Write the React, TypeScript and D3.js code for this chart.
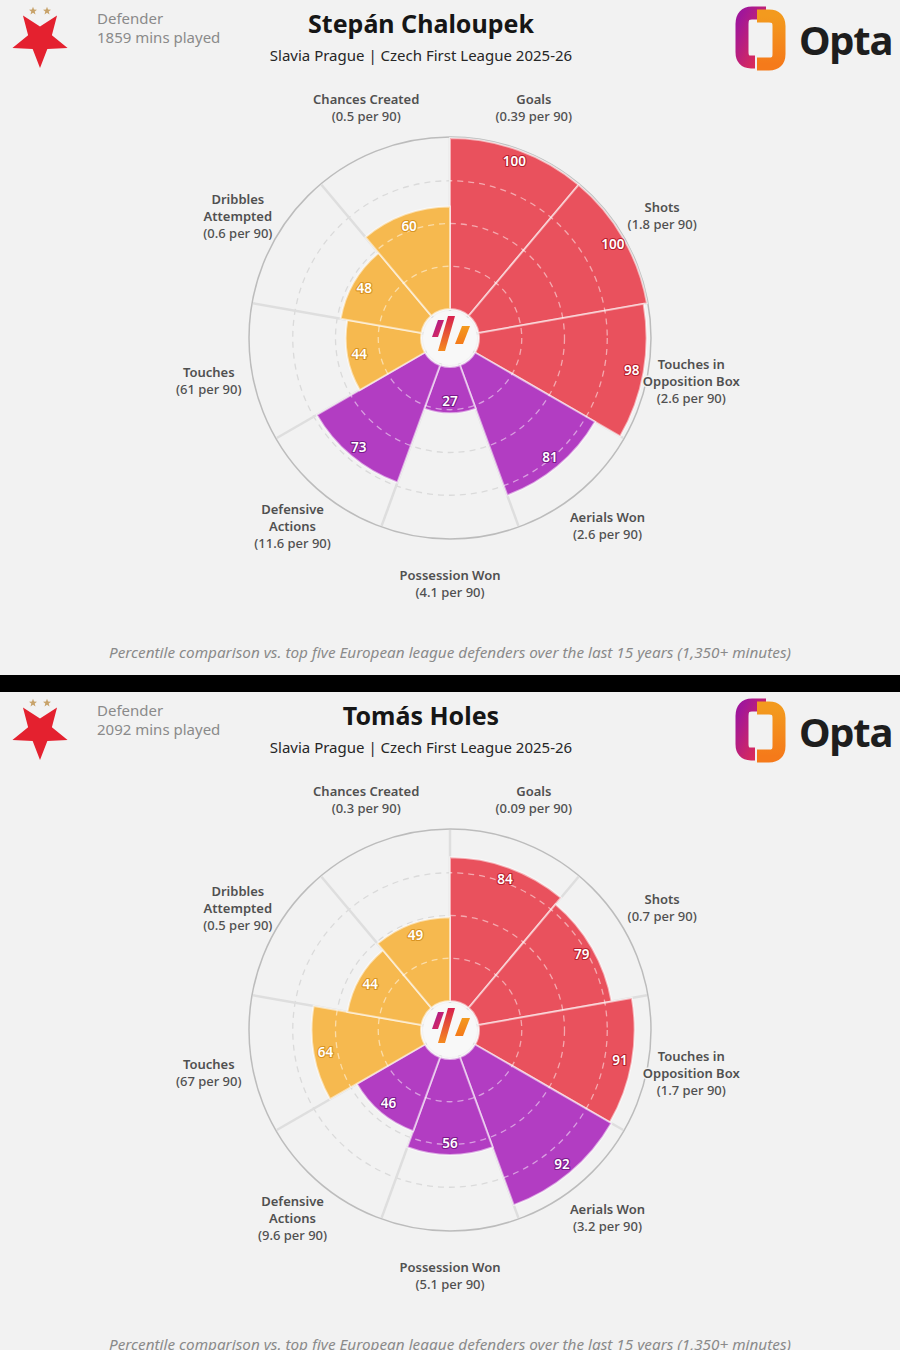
import * as d3 from "d3";

const categories = [
  "Goals",
  "Shots",
  "Touches in Opposition Box",
  "Aerials Won",
  "Possession Won",
  "Defensive Actions",
  "Touches",
  "Dribbles Attempted",
  "Chances Created",
];
const labelLines = [
  ["Goals"],
  ["Shots"],
  ["Touches in", "Opposition Box"],
  ["Aerials Won"],
  ["Possession Won"],
  ["Defensive", "Actions"],
  ["Touches"],
  ["Dribbles", "Attempted"],
  ["Chances Created"],
];
const groups = ["attack", "attack", "attack", "defence", "defence", "defence", "possession", "possession", "possession"];

const chaloupekPct = [100, 100, 98, 81, 27, 73, 44, 48, 60];
const chaloupekPer90 = ["0.39", "1.8", "2.6", "2.6", "4.1", "11.6", "61", "0.6", "0.5"];
const holesPct = [84, 79, 91, 92, 56, 46, 64, 44, 49];
const holesPer90 = ["0.09", "0.7", "1.7", "3.2", "5.1", "9.6", "67", "0.5", "0.3"];

const gridTicks = [25, 50, 75];

const groupColor: Record<string, string> = {
  attack: "#e9515d",
  defence: "#b23dc2",
  possession: "#f6b94f",
};
const groupDark: Record<string, string> = {
  attack: "#b8202e",
  defence: "#7a1a8a",
  possession: "#d99422",
};

const W = 900;
const PANEL_H = 675;
const BAND_H = 17;
const BG = "#f2f2f2";
const FONT = "'Noto Sans', 'DejaVu Sans', sans-serif";

const innerR = 29;
const outerR = 200;
const labelR = 245;

type PanelProps = {
  id: string;
  name: string;
  minutes: string;
  pct: number[];
  per90: string[];
  y0: number;
};

function Panel({ id, name, minutes, pct, per90, y0 }: PanelProps) {
  const cx = 450;
  const cy = 338;
  const angle = d3.scaleBand<string>().domain(categories).range([0, 2 * Math.PI]).padding(0);
  const r = d3.scaleLinear().domain([0, 100]).range([innerR, outerR]);
  const bw = angle.bandwidth();
  const arc = d3.arc<number>()
    .innerRadius(innerR)
    .outerRadius((d) => r(pct[d]))
    .startAngle((d) => angle(categories[d]) ?? 0)
    .endAngle((d) => (angle(categories[d]) ?? 0) + bw);
  const idx = categories.map((_, i) => i);
  const pos = (a: number, rad: number) => [Math.sin(a) * rad, -Math.cos(a) * rad];

  // red star pointing down
  const starPts: [number, number][] = d3.range(10).map((k) => {
    const a = Math.PI + (k * Math.PI) / 5;
    const rr = k % 2 === 0 ? 29 : 12.5;
    return [40 + Math.sin(a) * rr, 39 - Math.cos(a) * rr];
  });
  const smallStar = (sx: number, sy: number) =>
    d3.range(10).map((k) => {
      const a = (k * Math.PI) / 5;
      const rr = k % 2 === 0 ? 4.2 : 1.8;
      return [sx + Math.sin(a) * rr, sy - Math.cos(a) * rr].join(",");
    }).join(" ");

  return (
    <g transform={`translate(0,${y0})`}>
      <defs>
        <linearGradient id={`${id}-g1`} x1="0" y1="0" x2="1" y2="1">
          <stop offset="0%" stopColor="#a0169a" />
          <stop offset="100%" stopColor="#e8304a" />
        </linearGradient>
        <linearGradient id={`${id}-g2`} x1="0" y1="0" x2="0" y2="1">
          <stop offset="0%" stopColor="#f39a1e" />
          <stop offset="100%" stopColor="#f57a1a" />
        </linearGradient>
        <linearGradient id={`${id}-g3`} x1="0" y1="0" x2="0" y2="1">
          <stop offset="0%" stopColor="#d8204e" />
          <stop offset="100%" stopColor="#f58a1e" />
        </linearGradient>
        <clipPath id={`${id}-clip`}>
          {idx.map((i) => (
            <path key={i} d={arc(i) ?? ""} transform={`translate(${cx},${cy})`} />
          ))}
        </clipPath>
      </defs>
      <rect x={0} y={0} width={W} height={PANEL_H} fill={BG} />

      {/* club badge */}
      <polygon points={starPts.map((p) => p.join(",")).join(" ")} fill="#e4212f" />
      <polygon points={smallStar(33, 11)} fill="#c8a36a" />
      <polygon points={smallStar(47, 11)} fill="#c8a36a" />

      <text x={97} y={24} fontFamily={FONT} fontSize={15} fill="#8a8a8a">Defender</text>
      <text x={97} y={43} fontFamily={FONT} fontSize={15} fill="#8a8a8a">{minutes} mins played</text>

      <text x={421} y={33} textAnchor="middle" fontFamily={FONT} fontSize={25} fontWeight={700} fill="#161616">{name}</text>
      <text x={421} y={61} textAnchor="middle" fontFamily={FONT} fontSize={15} fill="#262626">
        Slavia Prague | Czech First League 2025-26
      </text>

      {/* Opta logo */}
      <path d="M766 13 L752 13 Q742 13 742 24 L742 52 Q742 62 751 62 L755 62" fill="none" stroke={`url(#${id}-g1)`} strokeWidth={13} />
      <path d="M757 16 L769 16 Q779 16 779 26 L779 54 Q779 64 769 64 L757 64" fill="none" stroke={`url(#${id}-g2)`} strokeWidth={13} />
      <text x={799} y={55} fontFamily={FONT} fontSize={40} fontWeight={700} fill="#1e1e1e" letterSpacing={-1.3}>Opta</text>

      <g transform={`translate(${cx},${cy})`}>
        {/* outer circle */}
        <circle r={outerR + 1} fill="none" stroke="#bcbcbc" strokeWidth={1.5} />
        {/* grid under bars */}
        {gridTicks.map((t) => (
          <circle key={t} r={r(t)} fill="none" stroke="#dadada" strokeWidth={1.3} strokeDasharray="6 5" />
        ))}
        {idx.map((i) => {
          const a = angle(categories[i]) ?? 0;
          const [x2, y2] = pos(a, outerR);
          return <line key={i} x1={0} y1={0} x2={x2} y2={y2} stroke="#dedede" strokeWidth={2.5} />;
        })}
        {/* bars */}
        {idx.map((i) => (
          <path key={i} d={arc(i) ?? ""} fill={groupColor[groups[i]]} stroke="rgba(255,255,255,0.55)" strokeWidth={2} />
        ))}
      </g>
      {/* grid over bars */}
      <g clipPath={`url(#${id}-clip)`}>
        <g transform={`translate(${cx},${cy})`}>
          {gridTicks.map((t) => (
            <circle key={t} r={r(t)} fill="none" stroke="rgba(255,255,255,0.5)" strokeWidth={1.3} strokeDasharray="6 5" />
          ))}
        </g>
      </g>
      <g transform={`translate(${cx},${cy})`}>
        {/* centre badge */}
        <circle r={27} fill="#f8f8f8" />
        <polygon points="-12,-18 -6,-18 -12,-1 -18,-1" fill={`url(#${id}-g1)`} />
        <polygon points="-2,-22 5,-22 -5,13 -12,13" fill={`url(#${id}-g3)`} />
        <polygon points="12,-12 20,-12 13,6 5,6" fill={`url(#${id}-g2)`} />

        {/* value labels */}
        {idx.map((i) => {
          const a = (angle(categories[i]) ?? 0) + bw / 2;
          const [x, y] = pos(a, r(pct[i]) - 12);
          return (
            <text
              key={i}
              x={x}
              y={y}
              textAnchor="middle"
              dominantBaseline="central"
              fontFamily={FONT}
              fontSize={13.5}
              fontWeight={600}
              fill="#ffffff"
              stroke={groupDark[groups[i]]}
              strokeWidth={2.2}
              paintOrder="stroke"
              strokeLinejoin="round"
            >
              {pct[i]}
            </text>
          );
        })}

        {/* category labels */}
        {idx.map((i) => {
          const a = (angle(categories[i]) ?? 0) + bw / 2;
          const [x, y] = pos(a, labelR);
          const lines = [...labelLines[i], `(${per90[i]} per 90)`];
          const lh = 17;
          const top = y - ((lines.length - 1) * lh) / 2;
          return (
            <text
              key={i}
              textAnchor="middle"
              dominantBaseline="central"
              fontFamily={FONT}
              fontSize={13}
              fill="#505050"
              stroke={BG}
              strokeWidth={3}
              paintOrder="stroke"
            >
              {lines.map((l, k) => (
                <tspan key={k} x={x} y={top + k * lh} fontWeight={k < lines.length - 1 ? 600 : 500}>
                  {l}
                </tspan>
              ))}
            </text>
          );
        })}
      </g>

      <text
        x={450}
        y={658}
        textAnchor="middle"
        fontFamily={FONT}
        fontSize={14}
        fontStyle="italic"
        fill="#8a8a8a"
        textLength={682}
        lengthAdjust="spacingAndGlyphs"
      >
        Percentile comparison vs. top five European league defenders over the last 15 years (1,350+ minutes)
      </text>
    </g>
  );
}

export default function App() {
  return (
    <svg
      width={W}
      height={1350}
      viewBox={`0 0 ${W} 1350`}
      style={{ position: "absolute", left: 0, top: 0, display: "block" }}
    >
      <rect x={0} y={0} width={W} height={1350} fill="#000" />
      <Panel id="p1" name="Stepán Chaloupek" minutes="1859" pct={chaloupekPct} per90={chaloupekPer90} y0={0} />
      <Panel id="p2" name="Tomás Holes" minutes="2092" pct={holesPct} per90={holesPer90} y0={PANEL_H + BAND_H} />
    </svg>
  );
}
